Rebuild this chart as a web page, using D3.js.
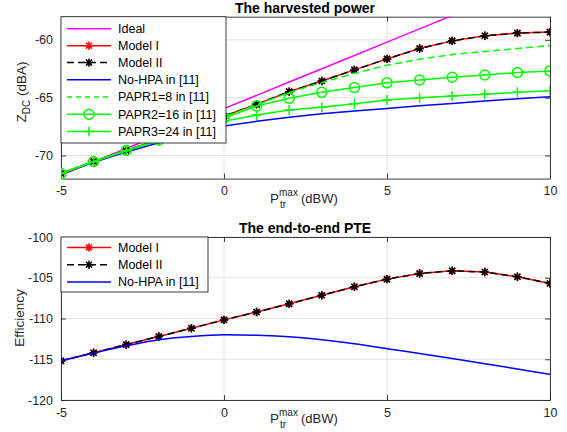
<!DOCTYPE html>
<html>
<head>
<meta charset="utf-8">
<script src="https://cdn.jsdelivr.net/npm/d3@7/dist/d3.min.js"></script>
<style>
  html, body { margin: 0; padding: 0; background: #fff; }
  svg { display: block; font-family: "Liberation Sans", Arial, Helvetica, sans-serif; }
</style>
</head>
<body>
<svg id="chart" width="567" height="432"></svg>
<script>
// Transmit power grid (dBW)
const pTx = [-5, -4, -3, -2, -1, 0, 1, 2, 3, 4, 5, 6, 7, 8, 9, 10];

// Harvested power Z_DC (dBA)
const idealZ  = [-71.7, -70.55, -69.4, -68.25, -67.1, -65.95, -64.8, -63.65, -62.5, -61.35, -60.2, -59.05, -57.9, -56.75, -55.6, -54.45];
const modelIZ = [-71.56, -70.52, -69.57, -68.6, -67.6, -66.6, -65.58, -64.48, -63.56, -62.6, -61.65, -60.75, -60.09, -59.65, -59.42, -59.33];
const modelIIZ = [-71.56, -70.52, -69.57, -68.6, -67.6, -66.6, -65.58, -64.48, -63.56, -62.6, -61.65, -60.75, -60.09, -59.65, -59.42, -59.33];
const noHpaZ  = [-71.6, -70.6, -69.7, -68.9, -68.1, -67.46, -67.05, -66.7, -66.4, -66.15, -65.93, -65.7, -65.5, -65.3, -65.1, -64.92];
const papr1Z  = [-71.56, -70.52, -69.57, -68.6, -67.62, -66.65, -65.62, -64.55, -63.7, -62.9, -62.2, -61.67, -61.27, -61.0, -60.75, -60.49];
const papr2Z  = [-71.56, -70.52, -69.57, -68.65, -67.72, -66.78, -65.72, -65.06, -64.54, -64.13, -63.72, -63.47, -63.24, -63.04, -62.83, -62.69];
const papr3Z  = [-71.56, -70.55, -69.6, -68.75, -67.9, -67.05, -66.5, -66.07, -65.84, -65.52, -65.2, -65.0, -64.86, -64.71, -64.54, -64.4];

// End-to-end PTE
const pteModelI  = [-115.2, -114.2, -113.2, -112.2, -111.2, -110.17, -109.2, -108.2, -107.15, -106.1, -105.17, -104.47, -104.15, -104.3, -104.88, -105.7];
const pteModelII = [-115.2, -114.2, -113.2, -112.2, -111.2, -110.17, -109.2, -108.2, -107.15, -106.1, -105.17, -104.47, -104.15, -104.3, -104.88, -105.7];
const pteNoHpa   = [-115.2, -114.25, -113.35, -112.6, -112.2, -112.0, -112.05, -112.25, -112.6, -113.1, -113.7, -114.3, -114.9, -115.55, -116.2, -116.85];

// Axis ticks
const xTicks = [-5, 0, 5, 10];
const powerYTicks = [-70, -65, -60];
const pteYTicks = [-120, -115, -110, -105, -100];

const powerLegend = ["Ideal", "Model I", "Model II", "No-HPA in [11]", "PAPR1=8 in [11]", "PAPR2=16 in [11]", "PAPR3=24 in [11]"];
const pteLegend = ["Model I", "Model II", "No-HPA in [11]"];

const svg = d3.select("#chart");
const axisColor = "#262626";
const gridColor = "#e3e3e3";
const tickFont = 12.5;

function starPath(r) {
  const d = r * 0.72;
  return `M${-r},0L${r},0M0,${-r}L0,${r}M${-d},${-d}L${d},${d}M${-d},${d}L${d},${-d}`;
}
function plusPath(r) {
  return `M${-r},0L${r},0M0,${-r}L0,${r}`;
}

function drawMarker(g, type, color, x, y) {
  if (type === "star") {
    g.append("path").attr("d", starPath(4.2)).attr("transform", `translate(${x},${y})`)
      .attr("stroke", color).attr("stroke-width", 1.5).attr("fill", "none");
  } else if (type === "circle") {
    g.append("circle").attr("cx", x).attr("cy", y).attr("r", 5)
      .attr("stroke", color).attr("stroke-width", 1.5).attr("fill", "none");
  } else if (type === "plus") {
    g.append("path").attr("d", plusPath(5)).attr("transform", `translate(${x},${y})`)
      .attr("stroke", color).attr("stroke-width", 1.5).attr("fill", "none");
  }
}

function panel(opts) {
  const { top, bottom, yDomain, yTicks, id } = opts;
  const x = d3.scaleLinear().domain([-5, 10]).range([61, 550]);
  const y = d3.scaleLinear().domain(yDomain).range([bottom, top]);
  const g = svg.append("g");

  // grid
  g.append("g").selectAll("line.vg").data(xTicks).join("line")
    .attr("x1", d => x(d)).attr("x2", d => x(d)).attr("y1", top).attr("y2", bottom)
    .attr("stroke", gridColor).attr("stroke-width", 1);
  g.append("g").selectAll("line.hg").data(yTicks).join("line")
    .attr("y1", d => y(d)).attr("y2", d => y(d)).attr("x1", 61).attr("x2", 550)
    .attr("stroke", gridColor).attr("stroke-width", 1);

  // axes via d3 axis generators, ticks pointing inward
  const fmt = d3.format("d");
  const xb = g.append("g").attr("transform", `translate(0,${bottom})`)
    .call(d3.axisBottom(x).tickValues(xTicks).tickFormat(d => fmt(d).replace("−", "-")).tickSizeInner(-5).tickSizeOuter(0).tickPadding(8));
  const xt = g.append("g").attr("transform", `translate(0,${top})`)
    .call(d3.axisTop(x).tickValues(xTicks).tickFormat("").tickSizeInner(-5).tickSizeOuter(0));
  const yl = g.append("g").attr("transform", `translate(61,0)`)
    .call(d3.axisLeft(y).tickValues(yTicks).tickFormat(d => fmt(d).replace("−", "-")).tickSizeInner(-5).tickSizeOuter(0).tickPadding(8));
  const yr = g.append("g").attr("transform", `translate(550,0)`)
    .call(d3.axisRight(y).tickValues(yTicks).tickFormat("").tickSizeInner(-5).tickSizeOuter(0));
  [xb, xt, yl, yr].forEach(a => {
    a.selectAll(".domain").attr("stroke", axisColor).attr("stroke-width", 0.9);
    a.selectAll(".tick line").attr("stroke", axisColor).attr("stroke-width", 0.9);
    a.selectAll("text").attr("fill", axisColor).attr("font-size", tickFont)
      .attr("font-family", "'Liberation Sans', Arial, sans-serif");
  });

  // clip region
  svg.append("clipPath").attr("id", id).append("rect")
    .attr("x", 61).attr("y", top).attr("width", 489).attr("height", bottom - top);
  const plot = g.append("g").attr("clip-path", `url(#${id})`);
  return { x, y, g, plot };
}

function series(p, values, color, opts = {}) {
  const pts = pTx.map((t, i) => [t, values[i]]);
  const line = d3.line().x(d => p.x(d[0])).y(d => p.y(d[1]));
  if (opts.curve) line.curve(opts.curve);
  p.plot.append("path").attr("d", line(pts))
    .attr("fill", "none").attr("stroke", color).attr("stroke-width", 1.5)
    .attr("stroke-dasharray", opts.dash || null);
  if (opts.marker) {
    const mg = p.plot.append("g");
    pts.forEach(d => drawMarker(mg, opts.marker, color, p.x(d[0]), p.y(d[1])));
  }
}

function legend(entries, box, rowY) {
  const lg = svg.append("g");
  lg.append("rect").attr("x", box.x).attr("y", box.y).attr("width", box.w).attr("height", box.h)
    .attr("fill", "#fff").attr("stroke", axisColor).attr("stroke-width", 0.9);
  entries.forEach((e, i) => {
    const cy = rowY[i];
    lg.append("line").attr("x1", 67).attr("x2", 111).attr("y1", cy).attr("y2", cy)
      .attr("stroke", e.color).attr("stroke-width", 1.5).attr("stroke-dasharray", e.dash || null);
    if (e.marker) drawMarker(lg, e.marker, e.color, 89, cy);
    lg.append("text").attr("x", 118).attr("y", cy).attr("dy", "0.35em")
      .attr("font-size", 12.5).attr("fill", "#000").text(e.label);
  });
}

function title(text, cx, yBase) {
  svg.append("text").attr("x", cx).attr("y", yBase).attr("text-anchor", "middle")
    .attr("font-size", 14).attr("font-weight", "bold").attr("fill", "#000").text(text);
}

function xLabel(yBase) {
  const t = svg.append("g").attr("fill", axisColor);
  t.append("text").attr("x", 270).attr("y", yBase).attr("font-size", 13.5).text("P");
  t.append("text").attr("x", 279).attr("y", yBase - 7).attr("font-size", 10).text("max");
  t.append("text").attr("x", 280).attr("y", yBase + 5).attr("font-size", 10).text("tr");
  t.append("text").attr("x", 301).attr("y", yBase).attr("font-size", 13).text("(dBW)");
}

// ---------- Harvested power ----------
const p1 = panel({ top: 16.7, bottom: 178.6, yDomain: [-72, -58], yTicks: powerYTicks, id: "clipTop" });
series(p1, idealZ, "#ff00ff");
series(p1, modelIZ, "#ff0000", { marker: "star" });
series(p1, modelIIZ, "#000000", { marker: "star", dash: "7,4" });
series(p1, noHpaZ, "#0000ff");
series(p1, papr1Z, "#00ff00", { dash: "7,4" });
series(p1, papr2Z, "#00ff00", { marker: "circle" });
series(p1, papr3Z, "#00ff00", { marker: "plus" });

title("The harvested power", 305, 13);
xLabel(203);
svg.append("text").attr("transform", "translate(26,92) rotate(-90)").attr("text-anchor", "middle")
  .attr("fill", axisColor).attr("font-size", 13.5)
  .call(t => {
    t.append("tspan").text("Z");
    t.append("tspan").attr("font-size", 10).attr("dy", 4).text("DC");
    t.append("tspan").attr("dy", -4).text(" (dBA)");
  });

legend([
  { label: powerLegend[0], color: "#ff00ff" },
  { label: powerLegend[1], color: "#ff0000", marker: "star" },
  { label: powerLegend[2], color: "#000000", marker: "star", dash: "7,4" },
  { label: powerLegend[3], color: "#0000ff" },
  { label: powerLegend[4], color: "#00ff00", dash: "5,4" },
  { label: powerLegend[5], color: "#00ff00", marker: "circle" },
  { label: powerLegend[6], color: "#00ff00", marker: "plus" }
], { x: 61, y: 16.7, w: 165, h: 126.3 }, [28.7, 45.8, 62.6, 79.8, 97, 114.3, 131.6]);

// ---------- End-to-end PTE ----------
const p2 = panel({ top: 237, bottom: 400, yDomain: [-120, -100], yTicks: pteYTicks, id: "clipBottom" });
series(p2, pteModelI, "#ff0000", { marker: "star" });
series(p2, pteModelII, "#000000", { marker: "star", dash: "7,4" });
series(p2, pteNoHpa, "#0000ff", { curve: d3.curveMonotoneX });

title("The end-to-end PTE", 305, 233);
xLabel(423);
svg.append("text").attr("transform", "translate(24,318) rotate(-90)").attr("text-anchor", "middle")
  .attr("fill", axisColor).attr("font-size", 13.5).text("Efficiency");

legend([
  { label: pteLegend[0], color: "#ff0000", marker: "star" },
  { label: pteLegend[1], color: "#000000", marker: "star", dash: "7,4" },
  { label: pteLegend[2], color: "#0000ff" }
], { x: 61, y: 237, w: 147, h: 55 }, [247.5, 264.7, 282]);
</script>
</body>
</html>
